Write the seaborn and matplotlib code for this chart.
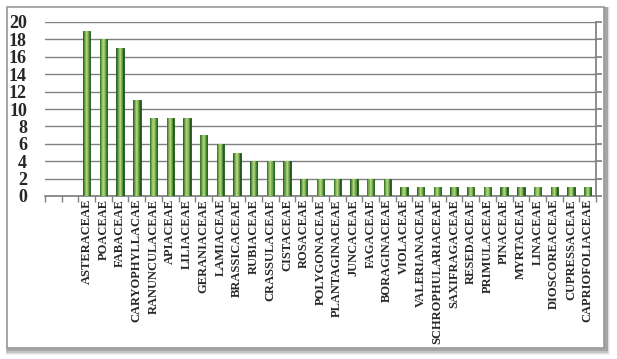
import numpy as np
import pandas as pd
import matplotlib
matplotlib.use("Agg")
import matplotlib.pyplot as plt
import seaborn as sns
from matplotlib.patches import Rectangle

families = ["ASTERACEAE", "POACEAE", "FABACEAE", "CARYOPHYLLACAE", "RANUNCULACEAE",
            "APIACEAE", "LILIACEAE", "GERANIACEAE", "LAMIACEAE", "BRASSICACEAE",
            "RUBIACEAE", "CRASSULACEAE", "CISTACEAE", "ROSACEAE", "POLYGONACEAE",
            "PLANTAGINACEAE", "JUNCACEAE", "FAGACEAE", "BORAGINACEAE", "VIOLACEAE",
            "VALERIANACEAE", "SCHROPHULARIACEAE", "SAXIFRAGACEAE", "RESEDACEAE",
            "PRIMULACEAE", "PINACEAE", "MYRTACEAE", "LINACEAE", "DIOSCOREACEAE",
            "CUPRESSACEAE", "CAPRIOFOLIACEAE"]
counts = [19, 18, 17, 11, 9, 9, 9, 7, 6, 5, 4, 4, 4, 2, 2, 2, 2, 2, 2,
          1, 1, 1, 1, 1, 1, 1, 1, 1, 1, 1, 1]
y_ticks = [0, 2, 4, 6, 8, 10, 12, 14, 16, 18, 20]

df = pd.DataFrame({"family": families, "count": counts})

sns.set_theme(style="white")
plt.rcParams["font.family"] = ["Liberation Serif", "DejaVu Serif"]

fig = plt.figure(figsize=(6.17, 3.59), dpi=100)
fig.patch.set_facecolor("white")

W, H = 617, 359
# background axes holding the outer frame and its soft shadow
bg = fig.add_axes([0, 0, 1, 1], zorder=0)
bg.set_xlim(0, W)
bg.set_ylim(H, 0)
bg.axis("off")
for i, a in enumerate([0.08, 0.14, 0.22, 0.32]):
    off = 4 - i
    bg.add_patch(Rectangle((7 - off * 0.3, 7), 600 + off, 343 + off * 1.3,
                           facecolor=(0.4, 0.4, 0.4, a), edgecolor="none", zorder=0))
bg.add_patch(Rectangle((7, 7), 597, 341, facecolor="white",
                       edgecolor="#9a9a9a", lw=1.2, zorder=1))

ax = fig.add_axes([45 / W, 1 - 196 / H, (596 - 45) / W, (196 - 22) / H], zorder=2)
ax.patch.set_alpha(0)

sns.barplot(data=df, x="family", y="count", ax=ax, width=0.44,
            color="#1d611b", edgecolor="#1a5a18", linewidth=0.6, zorder=3)

# horizontal gradient: nested lighter layers inside each seaborn bar
dark = np.array([0.11, 0.40, 0.10])
light = np.array([0.68, 0.82, 0.46])
n_layers = 7
for p in list(ax.patches):
    x0, y0 = p.get_x(), p.get_y()
    w, h = p.get_width(), p.get_height()
    if not np.isfinite(h) or h <= 0:
        continue
    cx = x0 + w / 2
    for k in range(1, n_layers):
        t = k / (n_layers - 1)
        frac = 1 - 0.85 * t
        col = dark + (light - dark) * (t ** 0.8)
        ax.add_patch(Rectangle((cx - w * frac / 2, y0), w * frac, h,
                               facecolor=col, edgecolor="none", zorder=3.5))

ax.set_xlim(-2.5, len(families) - 0.5)
ax.set_ylim(0, 20)
ax.set_yticks(y_ticks)
ax.set_yticklabels([str(v) for v in y_ticks], fontsize=13, fontweight="bold")
ax.grid(False)
ax.yaxis.grid(True, color="#808080", lw=1.0, zorder=1)
ax.set_axisbelow(True)
ax.set_xlabel("")
ax.set_ylabel("")

ax.set_xticks(range(len(families)))
ax.set_xticklabels(families, rotation=90, fontsize=9, fontweight="bold", va="top")
ax.tick_params(axis="x", which="major", length=0, pad=2)
ax.set_xticks(np.arange(-2.5, len(families), 1), minor=True)
ax.tick_params(axis="x", which="minor", length=4, color="#808080", direction="out", bottom=True)
ax.yaxis.set_tick_params(which="major", left=False, right=True, length=4,
                         color="#808080", direction="out", pad=9)

for s in ["top", "left"]:
    ax.spines[s].set_visible(False)
ax.spines["bottom"].set_color("#808080")
ax.spines["right"].set_color("#808080")

fig.savefig("out.png", dpi=100, facecolor="white")
